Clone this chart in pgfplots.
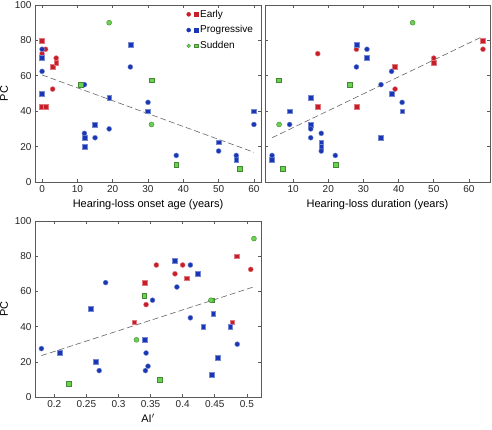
\documentclass[border=0pt]{standalone}
\usepackage{fontspec}
\setmainfont{Liberation Sans}
\usepackage{pgfplots}
\pgfplotsset{compat=1.18}
\definecolor{redc}{RGB}{200,30,40}
\definecolor{bluec}{RGB}{25,55,180}
\definecolor{greenc}{RGB}{105,210,80}
\definecolor{frame}{RGB}{90,90,90}
\pgfplotsset{
  myaxis/.style={
    scale only axis,
    /pgf/number format/assume math mode=true,
    tick align=inside,
    major tick length=3pt,
    axis line style={frame, line width=0.8pt},
    every tick/.style={frame, line width=0.6pt},
    tick label style={font=\fontsize{10}{12}\selectfont, text=black!85},
    label style={font=\fontsize{11}{13}\selectfont},
    ymin=0, ymax=100, ytick={0,20,...,100},
    clip=false,
  },
  rc/.style={only marks, mark=*, mark size=2.5pt, mark options={fill=redc, draw=redc!60!white, line width=0.4pt}},
  rs/.style={only marks, mark=square*, mark size=2.4pt, mark options={fill=redc, draw=redc!60!white, line width=0.4pt}},
  bc/.style={only marks, mark=*, mark size=2.5pt, mark options={fill=bluec, draw=bluec!60!white, line width=0.4pt}},
  bs/.style={only marks, mark=square*, mark size=2.4pt, mark options={fill=bluec, draw=bluec!60!white, line width=0.4pt}},
  gc/.style={only marks, mark=*, mark size=2.5pt, mark options={fill=greenc, draw=greenc!65!black, line width=0.4pt}},
  gs/.style={only marks, mark=square*, mark size=2.4pt, mark options={fill=greenc, draw=greenc!65!black, line width=0.4pt}},
  regline/.style={gray!80!black, line width=0.6pt, dash pattern=on 6pt off 3pt},
}
\begin{document}
\begin{tikzpicture}
\useasboundingbox (0pt,0pt) rectangle (492pt,429pt);
% ---------- Panel 1: onset age ----------
\begin{axis}[myaxis, at={(35pt,247pt)}, anchor=south west, width=226pt, height=177pt,
  xmin=-2, xmax=62, xtick={0,10,...,60},
  xlabel={Hearing-loss onset age (years)}, ylabel={PC},
  legend style={at={(0.665,0.99)}, anchor=north west, draw=none, fill=none,
    font=\fontsize{10}{12}\selectfont, row sep=3pt, inner sep=1pt},
  legend cell align=left]
\addplot[regline, forget plot] coordinates {(0,60.5) (60,16.8)};
\addplot[rs, forget plot] coordinates {(0,80) (0,42.5) (1,42.5) (3,65) (4,67.5)};
\addplot[rc, forget plot] coordinates {(0,72.5) (1,75) (3,52.5) (4,70)};
\addplot[bs, forget plot] coordinates {(0,70) (0,50) (12,25) (12,20) (15,32.5) (19,47.5) (25,77.5) (30,40) (50,22.5) (55,12.5) (60,40)};
\addplot[bc, forget plot] coordinates {(0,75) (0,62.5) (12,55) (12,27.5) (15,25) (19,30) (25,65) (30,45) (38,15) (50,17.5) (55,15) (60,32.5)};
\addplot[gs, forget plot] coordinates {(11,55) (31,57.5) (38,10) (56,7.5)};
\addplot[gc, forget plot] coordinates {(19,90) (31,32.5)};
\addlegendimage{legend image code/.code={
  \fill[redc] (2pt,0pt) circle (2pt);
  \fill[redc] (7.5pt,-1.9pt) rectangle (11.3pt,1.9pt);}}
\addlegendentry{Early}
\addlegendimage{legend image code/.code={
  \fill[bluec] (2pt,0pt) circle (2pt);
  \fill[bluec] (7.5pt,-1.9pt) rectangle (11.3pt,1.9pt);}}
\addlegendentry{Progressive}
\addlegendimage{legend image code/.code={
  \filldraw[fill=greenc, draw=greenc!65!black, line width=0.3pt] (2pt,0pt) circle (1.9pt);
  \filldraw[fill=greenc, draw=greenc!65!black, line width=0.3pt] (7.6pt,-1.8pt) rectangle (11.2pt,1.8pt);}}
\addlegendentry{Sudden}
\end{axis}
% ---------- Panel 2: duration ----------
\begin{axis}[myaxis, at={(265pt,247pt)}, anchor=south west, width=225pt, height=177pt,
  xmin=2, xmax=66, xtick={10,20,...,60}, yticklabels={},
  xlabel={Hearing-loss duration (years)}]
\addplot[regline] coordinates {(4,25) (64,82.3)};
\addplot[rs] coordinates {(17,42.5) (28,42.5) (39,65) (50,67.5) (64,80)};
\addplot[rc] coordinates {(17,72.5) (28,75) (39,52.5) (50,70) (64,75)};
\addplot[bs] coordinates {(28,77.5) (31,70) (15,47.5) (9,40) (15,32.5) (18,22.5) (18,20) (4,12.5) (35,25) (38,50) (41,40)};
\addplot[bc] coordinates {(31,75) (28,65) (38,62.5) (35,55) (41,45) (9,32.5) (15,30) (15,25) (18,27.5) (18,17.5) (22,15) (4,15)};
\addplot[gs] coordinates {(6,57.5) (26,55) (7,7.5) (22,10)};
\addplot[gc] coordinates {(44,90) (6,32.5)};
\end{axis}
% ---------- Panel 3: AI' ----------
\begin{axis}[myaxis, at={(35pt,32pt)}, anchor=south west, width=226pt, height=176pt,
  xmin=0.17, xmax=0.522, xtick={0.2,0.25,...,0.5},
  xticklabels={0.2,0.25,0.3,0.35,0.4,0.45,0.5},
  xlabel={AI$'$}, ylabel={PC}]
\addplot[regline] coordinates {(0.18,23.5) (0.511,62.6)};
\addplot[rs] coordinates {(0.3246,42.5) (0.341,65) (0.406,67.5) (0.477,42.5) (0.4845,80)};
\addplot[rc] coordinates {(0.343,52.5) (0.359,75) (0.388,70) (0.40,75) (0.506,72.5)};
\addplot[bs] coordinates {(0.209,25) (0.257,50) (0.264,20) (0.341,32.5) (0.388,77.5) (0.423,70) (0.432,40) (0.4477,47.5) (0.454,22.5) (0.445,12.5) (0.474,40)};
\addplot[bc] coordinates {(0.18,27.5) (0.28,65) (0.27,15) (0.343,25) (0.342,15) (0.346,17.5) (0.353,55) (0.391,62.5) (0.412,75) (0.412,45) (0.485,30)};
\addplot[gs] coordinates {(0.222,7.5) (0.340,57.5) (0.364,10) (0.446,55)};
\addplot[gc] coordinates {(0.328,32.5) (0.444,55) (0.511,90)};
\end{axis}
\end{tikzpicture}
\end{document}
